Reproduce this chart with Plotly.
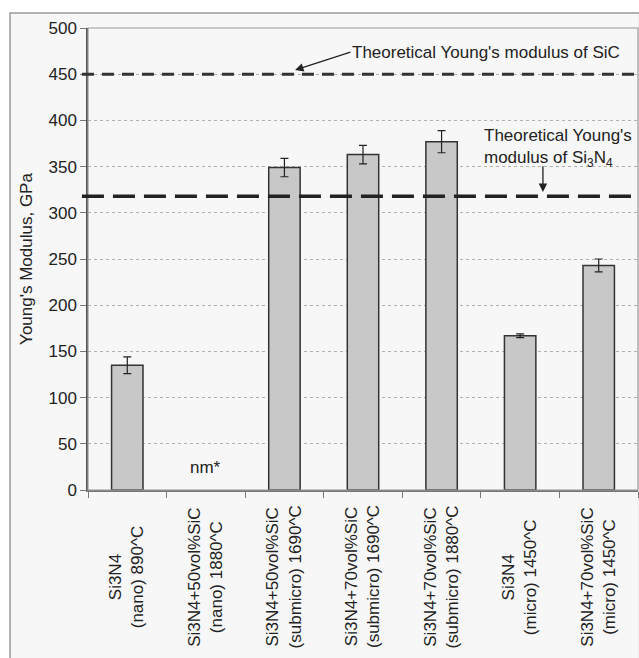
import plotly.graph_objects as go

categories = [
    "Si3N4<br>(nano) 890^C",
    "Si3N4+50vol%SiC<br>(nano) 1880^C",
    "Si3N4+50vol%SiC<br>(submicro) 1690^C",
    "Si3N4+70vol%SiC<br>(submicro) 1690^C",
    "Si3N4+70vol%SiC<br>(submicro) 1880^C",
    "Si3N4<br>(micro) 1450^C",
    "Si3N4+70vol%SiC<br>(micro) 1450^C",
]
modulus = [135, None, 349, 363, 377, 167, 243]
errors = [9, 0, 10, 10, 12, 2, 7]
sic_theory = 450
si3n4_theory = 318
y_ticks = [0, 50, 100, 150, 200, 250, 300, 350, 400, 450, 500]

FONT = "Liberation Sans, Arial, sans-serif"
TXT = "#222222"
xs = list(range(len(categories)))

fig = go.Figure()
fig.add_trace(go.Bar(
    x=xs, y=modulus, width=0.4,
    marker=dict(color="#c8c8c8", line=dict(color="#333333", width=1.5)),
    error_y=dict(type="data", array=errors, color="#222222", thickness=1.2, width=4),
    showlegend=False, hoverinfo="skip",
))

shapes = [
    # outer chart frame
    dict(type="rect", xref="paper", yref="paper", x0=-0.1418, x1=1.003, y0=-0.37, y1=1.0325,
         fillcolor="#f7f7f7", line=dict(color="#999999", width=1.5), layer="below"),
    # plot-area frame
    dict(type="rect", xref="paper", yref="paper", x0=0, x1=1, y0=0, y1=1,
         line=dict(color="#999999", width=1.2), layer="above"),
    # theoretical lines
    dict(type="line", xref="paper", yref="y", x0=-0.011, x1=1, y0=sic_theory, y1=sic_theory,
         line=dict(color="#333333", width=3, dash="12px,8px")),
    dict(type="line", xref="paper", yref="y", x0=-0.011, x1=1, y0=si3n4_theory, y1=si3n4_theory,
         line=dict(color="#222222", width=3.5, dash="22px,9px")),
]

annotations = [
    dict(x=2.135, y=454.5, xref="x", yref="y", ax=2.84, ay=474, axref="x", ayref="y",
         text="Theoretical Young's modulus of SiC", xanchor="left", yanchor="middle",
         font=dict(size=17, color=TXT, family=FONT),
         showarrow=True, arrowhead=2, arrowsize=1.3, arrowwidth=1.3,
         arrowcolor="#222222", standoff=0),
    dict(x=4.515, y=370, xref="x", yref="y",
         text="Theoretical Young's<br>modulus of Si<sub>3</sub>N<sub>4</sub>",
         showarrow=False, xanchor="left", yanchor="middle", align="left",
         font=dict(size=17, color=TXT, family=FONT)),
    dict(x=5.29, y=322.5, xref="x", yref="y", ax=5.29, ay=352, axref="x", ayref="y",
         text="", showarrow=True, arrowhead=2, arrowsize=1.3, arrowwidth=1.3,
         arrowcolor="#222222", standoff=0, startstandoff=0),
    dict(x=1, y=24, xref="x", yref="y", text="nm*", showarrow=False,
         font=dict(size=17, color=TXT, family=FONT)),
]
for i, lab in enumerate(categories):
    annotations.append(dict(
        x=i, y=-0.1883, xref="x", yref="paper", text=lab, textangle=-90,
        showarrow=False, xanchor="center", yanchor="middle", align="center",
        font=dict(size=17, color=TXT, family=FONT)))

fig.update_layout(
    width=639, height=658,
    margin=dict(l=88, r=1, t=28, b=168),
    paper_bgcolor="white", plot_bgcolor="white",
    shapes=shapes, annotations=annotations,
    font=dict(family=FONT, size=17, color=TXT),
    bargap=0.6,
)
fig.update_xaxes(
    range=[-0.5, 6.5], tickvals=[i - 0.5 for i in range(8)], showticklabels=False,
    ticks="outside", ticklen=6, tickcolor="#777777", showline=True, linecolor="#777777",
    linewidth=1.5, showgrid=False, zeroline=False,
)
fig.update_yaxes(
    range=[0, 500], tickvals=y_ticks, ticks="outside", ticklen=6, tickcolor="#777777",
    showline=True, linecolor="#555555", linewidth=1.5,
    showgrid=True, gridcolor="#b0b0b0", griddash="dot", gridwidth=1, zeroline=False,
    title=dict(text="Young's Modulus, GPa", font=dict(size=17, color=TXT, family=FONT), standoff=12),
    tickfont=dict(size=17, color=TXT, family=FONT),
)
fig.write_html(
    "out.html",
    config={"displayModeBar": False},
    post_script="document.body.style.margin='0';document.body.style.overflow='hidden';",
)
